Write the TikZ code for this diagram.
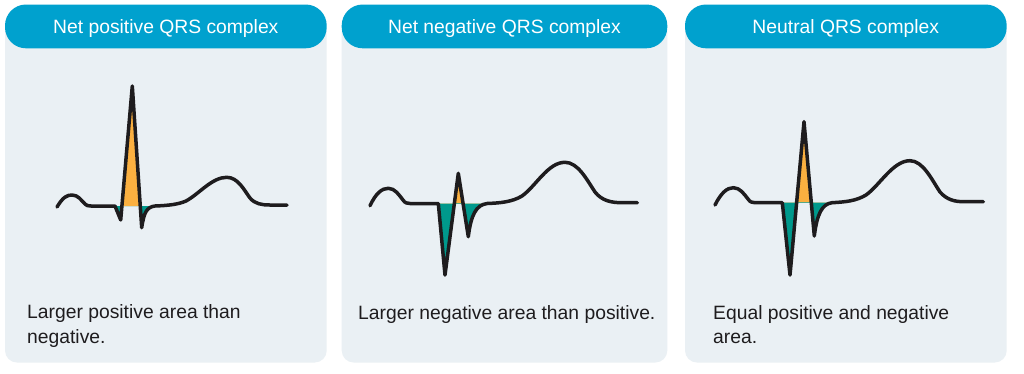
\documentclass[tikz,border=0pt]{standalone}
\usepackage{fontspec}
\setmainfont{Liberation Sans}
\usepackage{tikz}
\definecolor{H}{RGB}{0, 161, 206}
\definecolor{P}{RGB}{234, 240, 244}
\definecolor{O}{RGB}{251, 176, 64}
\definecolor{T}{RGB}{0, 153, 140}
\definecolor{K}{RGB}{30, 28, 30}

\tikzset{
  panel/.style={fill=P, rounded corners=12pt},
  header/.style={fill=H, rounded corners=21pt},
  ecg/.style={draw=K, line width=3.5pt, line join=round, line cap=round},
  headtext/.style={text=white, anchor=base, inner sep=0pt, font=\fontsize{19.3}{23}\selectfont},
  bodytext/.style={text=K, anchor=base west, inner sep=0pt, align=left, font=\fontsize{19.3}{24.5}\selectfont}
}

\begin{document}
\begin{tikzpicture}[x=1pt, y=-1pt]
  \useasboundingbox[fill=white] (0,0) rectangle (1024,373);

  % Cajas de fondo
  \fill[panel] (5,20) rectangle (326.7,362.5);
  \fill[panel] (341.7,20) rectangle (667.3,362.5);
  \fill[panel] (685,20) rectangle (1006.7,362.5);

  % Cabeceras
  \fill[header] (5,4.5) rectangle (326.7,48.3);
  \fill[header] (341.7,4.5) rectangle (667.3,48.3);
  \fill[header] (685,4.5) rectangle (1006.7,48.3);
  \node[headtext] (tpos) at (165.8,33) {Net positive QRS complex};
  \node[headtext] (tneg) at (504.5,33) {Net negative QRS complex};
  \node[headtext] (tneu) at (845.8,33) {Neutral QRS complex};

  %Complejo positivo
  \begin{scope}
    \clip (100,0) rectangle (170,206);
    \fill[O] (115,206) -- (120.7,220) -- (132.3,86) -- (141.7,227.7)
      .. controls (144,212) and (147,207) .. (155,206) -- cycle;
  \end{scope}
  \begin{scope}
    \clip (100,206) rectangle (170,260);
    \fill[T] (115,206) -- (120.7,220) -- (132.3,86) -- (141.7,227.7)
      .. controls (144,212) and (147,207) .. (155,206) -- cycle;
  \end{scope}
  \draw[ecg] (57,207) .. controls (63,197) and (67,195) .. (72,195)
    .. controls (78,195) and (81,200) .. (85,204) .. controls (86.5,205.6) and (88,206) .. (91,206)
    -- (115,206) -- (120.7,220) -- (132.3,86) -- (141.7,227.7)
    .. controls (144,212) and (147,207) .. (155,206)
    .. controls (168,205.5) and (178,204.5) .. (186,201)
    .. controls (199,194) and (212,177.3) .. (226.7,177.3)
    .. controls (238,177.3) and (244,190) .. (250,198)
    .. controls (255,204) and (262,205) .. (270,205) -- (287,205);

  %Complejo negativo
  \begin{scope}
    \clip (420,0) rectangle (500,203.5);
    \fill[O] (438.3,203.5) -- (445,275) -- (458.3,173.3) -- (468.3,236.7)
      .. controls (471,215) and (476,205) .. (487,203.5) -- cycle;
  \end{scope}
  \begin{scope}
    \clip (420,203.5) rectangle (500,290);
    \fill[T] (438.3,203.5) -- (445,275) -- (458.3,173.3) -- (468.3,236.7)
      .. controls (471,215) and (476,205) .. (487,203.5) -- cycle;
  \end{scope}
  \draw[ecg] (370,205.7) .. controls (376,193) and (382,188.3) .. (388.3,188.3)
    .. controls (395,188.3) and (399,195) .. (403,200) .. controls (405,203) and (407,203.5) .. (410,203.5)
    -- (438.3,203.5) -- (445,275) -- (458.3,173.3) -- (468.3,236.7)
    .. controls (471,215) and (476,205) .. (487,203.5)
    .. controls (500,203) and (512,202) .. (522,196)
    .. controls (536,186) and (548,162.3) .. (565,162.3)
    .. controls (578,162.3) and (587,180) .. (595,192)
    .. controls (602,201) and (612,202.7) .. (622,202.7) -- (637.3,202.7);

  %Complejo neutro
  \begin{scope}
    \clip (770,0) rectangle (845,202.7);
    \fill[O] (782.3,202.7) -- (790,275) -- (804,121.7) -- (814.3,236)
      .. controls (817,214) and (822,204) .. (832,202.7) -- cycle;
  \end{scope}
  \begin{scope}
    \clip (770,202.7) rectangle (845,290);
    \fill[T] (782.3,202.7) -- (790,275) -- (804,121.7) -- (814.3,236)
      .. controls (817,214) and (822,204) .. (832,202.7) -- cycle;
  \end{scope}
  \draw[ecg] (715,205) .. controls (721,193) and (727,187.7) .. (733.3,187.7)
    .. controls (740,187.7) and (744,194) .. (748,199) .. controls (750,202) and (752,202.7) .. (755,202.7)
    -- (782.3,202.7) -- (790,275) -- (804,121.7) -- (814.3,236)
    .. controls (817,214) and (822,204) .. (832,202.7)
    .. controls (845,202) and (856,201) .. (866,195)
    .. controls (880,185) and (893,160.7) .. (910,160.7)
    .. controls (923,160.7) and (932,180) .. (940,192)
    .. controls (947,200) and (955,201.7) .. (964,201.7) -- (983.3,201.7);

  % Textos (base = ultima linea)
  \node[bodytext] (dpos) at (27,343) {Larger positive area than\\negative.};
  \node[bodytext] (dneg) at (358,319) {Larger negative area than positive.};
  \node[bodytext] (dneu) at (713,343.5) {Equal positive and negative\\area.};
\end{tikzpicture}
\end{document}
